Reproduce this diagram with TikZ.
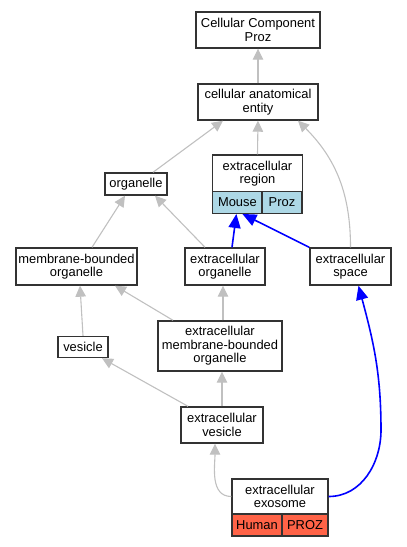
\documentclass[tikz,border=0pt]{standalone}
\usepackage{fontspec}
\setmainfont{Liberation Sans}
\usetikzlibrary{arrows.meta}
\definecolor{edgegray}{HTML}{C0C0C0}
\definecolor{mousecol}{HTML}{ADD8E6}
\definecolor{humancol}{HTML}{FF6347}
\begin{document}
\begin{tikzpicture}[x=1pt, y=-1pt,
    term/.style={draw=black!80, line width=1.4pt, fill=white, inner sep=0pt, align=center,
        font=\fontsize{12.9}{13.6}\selectfont},
    isa/.style={draw=edgegray, line width=1.1pt, -{Triangle[length=11pt,width=10.5pt]}},
    link/.style={draw=blue, line width=1.6pt, -{Triangle[length=14pt,width=12pt]}}]
    \useasboundingbox (0,0) rectangle (407,547) ;
    % terms
    \node[term, minimum width=124, minimum height=36] (cc) at (258,30) {Cellular Component\\Proz} ;
    \node[term, minimum width=120, minimum height=36] (cae) at (258,102) {cellular anatomical\\entity} ;
    \node[term, minimum width=62, minimum height=22] (org) at (136,184) {organelle} ;
    \node[term, minimum width=90, minimum height=37] (er) at (257.5,173.5) {extracellular\\region} ;
    \node[term, fill=mousecol, minimum width=49.5, minimum height=21.5] (mouse) at (237.4,202.5) {Mouse} ;
    \node[term, fill=mousecol, minimum width=40, minimum height=21.5] (prozm) at (282,202.5) {Proz} ;
    \node[term, minimum width=121, minimum height=37] (mbo) at (76.5,266.5) {membrane-bounded\\organelle} ;
    \node[term, minimum width=80, minimum height=37] (eo) at (225,266.5) {extracellular\\organelle} ;
    \node[term, minimum width=81, minimum height=37] (es) at (350.5,266.5) {extracellular\\space} ;
    \node[term, minimum width=50, minimum height=21] (ves) at (83,347) {vesicle} ;
    \node[term, minimum width=124, minimum height=50] (embo) at (220,346) {extracellular\\membrane-bounded\\organelle} ;
    \node[term, minimum width=82, minimum height=36] (ev) at (222,425) {extracellular\\vesicle} ;
    \node[term, minimum width=96, minimum height=35] (exo) at (280,496.5) {extracellular\\exosome} ;
    \node[term, fill=humancol, minimum width=50, minimum height=22] (human) at (257,525) {Human} ;
    \node[term, fill=humancol, minimum width=46, minimum height=22] (prozh) at (305,525) {PROZ} ;
    % is_a
    \draw[isa] (cae.north) -- (cc.south) ;
    \draw[isa] ([xshift=17]org.north) -- ([xshift=-35]cae.south) ;
    \draw[isa] (er.north) -- (cae.south) ;
    \draw[isa] (es.north) to[out=90, in=-45] ([xshift=40]cae.south) ;
    \draw[isa] ([xshift=15.5]mbo.north) -- ([xshift=-11]org.south) ;
    \draw[isa] ([xshift=-20]eo.north) -- ([xshift=19]org.south) ;
    \draw[isa] (ves.north) -- ([xshift=3.5]mbo.south) ;
    \draw[isa] ([xshift=-47]embo.north) -- ([xshift=38.5]mbo.south) ;
    \draw[isa] ([xshift=3]embo.north) -- ([xshift=-2]eo.south) ;
    \draw[isa] ([xshift=-34]ev.north) -- ([xshift=19]ves.south) ;
    \draw[isa] (ev.north) -- ([xshift=2]embo.south) ;
    \draw[isa] (exo.west) to[out=180, in=-90] ([xshift=-7]ev.south) ;
    % part_of
    \draw[link] ([xshift=7]eo.north) -- ([xshift=-1]mouse.south) ;
    \draw[link] (es.north west) -- ([xshift=5]mouse.south) ;
    \coordinate (bend) at (381,430) ;
    \draw[link] (exo.east) to[out=0, in=-90] (bend) to[out=90, in=-75] ([xshift=8]es.south) ;
\end{tikzpicture}
\end{document}
